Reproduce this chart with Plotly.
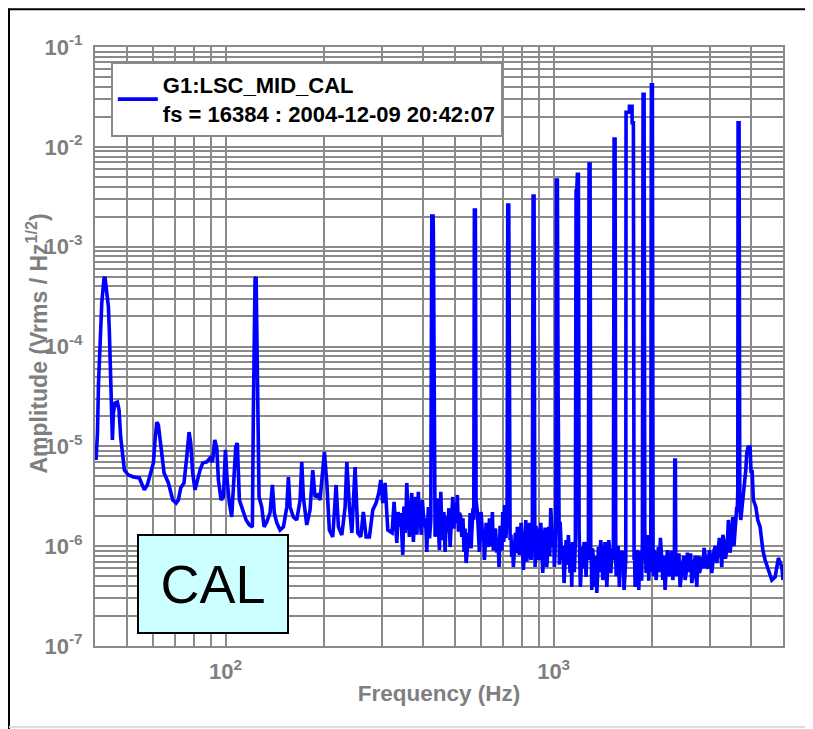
import plotly.graph_objects as go

# ---- main trace ----
freq_hz = [
    40.3, 40.7, 41.0, 41.45, 41.95, 42.6, 42.9, 43.45, 43.95, 44.25, 44.7, 45.0, 45.2, 45.5,
    46.05, 46.8, 47.35, 47.9, 48.45, 49.15, 50.55, 52.4, 54.6, 55.55, 56.55, 57.75, 59.3,
    60.25, 60.97, 61.7, 62.4, 63.15, 63.9, 64.95, 66.95, 69.05, 70.7, 71.8, 73.0, 74.7,
    76.15, 77.4, 78.3, 79.4, 80.7, 81.7, 83.6, 85.2, 87.6, 89.7, 91.2, 92.7, 94.0, 95.1,
    96.9, 98.5, 99.9, 101.1, 102.7, 104.4, 106.1, 107.4, 108.6, 110.2, 112.8, 115.5, 118.2,
    120.7, 121.5, 123.0, 123.9, 125.0, 126.5, 128.9, 131.0, 133.5, 136.6, 138.9, 140.8,
    143.3, 146.6, 150.1, 153.7, 155.4, 157.3, 160.9, 164.8, 168.7, 170.7, 172.6, 176.8,
    180.9, 184.4, 187.4, 191.0, 194.1, 197.2, 200.1, 203.5, 207.2, 212.2, 217.2, 220.8,
    226.1, 231.4, 234.2, 238.5, 242.6, 248.2, 252.9, 258.3, 263.0, 268.1, 274.4, 281.0,
    287.5, 293.1, 297.2, 301.4, 306.4, 312.2,
    321.7, 326.3, 332.6, 338.7, 342.0, 346.8, 352.4, 356.7, 363.3, 369.4, 373.6, 379.9,
    386.9, 391.5, 398.0, 403.6, 410.5, 415.1, 422.2, 425.2, 429.1, 429.9, 432.1, 435.1,
    442.2, 448.5, 452.9, 459.2, 466.7, 475.6, 483.4, 492.6, 500.6, 508.8, 516.0, 524.8,
    533.3, 540.8, 549.5, 556.2, 564.0, 570.8, 573.2, 577.2, 580.0, 585.4, 593.7, 600.9,
    608.0, 614.9, 622.3, 632.4, 643.1, 650.4, 659.6, 670.8, 681.7, 691.3, 699.6, 709.6,
    721.1, 724.6, 729.7, 732.8, 736.5, 745.2, 753.7, 764.3, 775.1, 786.1, 795.5, 808.5,
    822.2, 833.8, 843.3, 853.4, 861.2, 865.5, 871.5, 875.8, 877.8, 888.2, 900.7, 913.5,
    926.4, 941.5, 952.8, 966.3, 979.9, 993.8, 1005.1, 1015.0, 1019.3, 1026.4, 1031.6,
    1036.6, 1046.2, 1058.5, 1075.8, 1091.0, 1108.9, 1122.0, 1135.5, 1148.4, 1164.6,
    1170.3, 1176.0, 1181.1, 1189.3, 1195.3, 1206.1, 1218.0, 1237.8, 1255.4, 1275.8,
    1282.0, 1291.2, 1297.4, 1306.7, 1321.3, 1337.2, 1353.3, 1368.6, 1391.8, 1411.5,
    1434.4, 1451.7, 1472.2, 1493.1, 1520.5, 1527.9, 1538.7, 1546.2, 1557.2, 1585.8,
    1612.7, 1638.9, 1658.6, 1662.0, 1701.0, 1702.0, 1733.7, 1734.5, 1749.8, 1758.3,
    1770.8, 1791.8, 1817.2, 1843.0, 1863.9, 1872.9, 1886.3, 1895.4, 1912.9, 1940.0,
    1957.5, 1977.0, 1985.2, 1999.4, 2009.1, 2023.0, 2051.7, 2085.4, 2114.8, 2150.7,
    2185.6, 2221.2, 2263.7, 2307.3, 2333.0, 2339.6, 2349.4, 2355.9, 2389.2, 2428.0,
    2474.3, 2515.1, 2556.0, 2592.2, 2636.1, 2679.0, 2730.1, 2780.2, 2827.4, 2873.9,
    2928.7, 2982.5, 3033.0, 3082.3, 3141.6, 3199.3, 3253.5, 3306.4, 3370.2, 3407.7,
    3448.7, 3514.5, 3572.5, 3614.7, 3640.6, 3648.1, 3673.4, 3692.0, 3717.7, 3770.3,
    3813.1, 3851.0, 3877.7, 3913.6, 3969.0, 3996.6, 4025.2, 4061.5, 4131.3, 4189.0,
    4258.0, 4339.2, 4409.7, 4513.4, 4621.9, 4730.5, 4841.0, 4958.3, 5000.0,
]
amp_vrms = [
    7.3e-6, 1.36e-5, 4.31e-5, 1.37e-4, 2.73e-4, 4.8e-4, 4.97e-4, 3.44e-4, 2.49e-4, 1.37e-4, 5.42e-5, 1.97e-5, 1.16e-5, 2.16e-5,
    2.72e-5, 2.78e-5, 2.31e-5, 1.24e-5, 8.58e-6, 5.79e-6, 5.16e-6, 4.93e-6, 4.82e-6, 4.1e-6, 3.66e-6, 4.1e-6, 5.41e-6,
    6.81e-6, 1.16e-5, 1.75e-5, 1.64e-5, 1.16e-5, 7.3e-6, 5.41e-6, 4.3e-6, 2.9e-6, 2.7e-6, 2.9e-6, 3.83e-6, 4.3e-6,
    7.82e-6, 1.39e-5, 1.08e-5, 5.41e-6, 3.66e-6, 4.3e-6, 5.79e-6, 6.81e-6, 6.97e-6, 7.64e-6, 6.97e-6, 1.16e-5, 9.64e-6, 4.6e-6,
    2.9e-6, 3.11e-6, 9.2e-6, 4.6e-6, 2.7e-6, 1.96e-6, 4.6e-6, 9.86e-6, 1.08e-5, 2.9e-6, 2.3e-6, 1.83e-6, 1.63e-6,
    1.56e-6, 1.97e-5, 4.8e-4, 4.97e-4, 2.91e-5, 3.11e-6, 2.47e-6, 1.56e-6, 1.75e-6, 2.15e-6, 4.1e-6, 2.15e-6,
    1.71e-6, 1.45e-6, 1.56e-6, 2.47e-6, 4.93e-6, 2.47e-6, 1.96e-6, 1.83e-6, 2.9e-6, 6.97e-6, 3.11e-6, 1.63e-6,
    2.3e-6, 5.79e-6, 3.11e-6, 3.26e-6, 2.9e-6, 5.41e-6, 8.78e-6, 4.3e-6, 1.45e-6, 1.24e-6, 4.1e-6, 1.56e-6,
    1.29e-6, 2.47e-6, 6.97e-6, 2.47e-6, 1.36e-6, 6.21e-6, 1.36e-6, 1.24e-6, 2.2e-6, 1.24e-6, 1.24e-6, 2.3e-6,
    2.7e-6, 3.41e-6, 4.6e-6, 2.7e-6, 4.3e-6, 1.45e-6,
    1.36e-6, 2.77e-6, 1.08e-6, 1.56e-6, 2.15e-6, 8.17e-7, 1.36e-6, 4.3e-6, 1.24e-6, 3.41e-6, 1.1e-6, 3.11e-6,
    3.5e-6, 1.96e-6, 2.9e-6, 1.56e-6, 8.75e-7, 2.47e-6, 1.83e-6, 2.03e-3, 2.03e-3, 1.37e-3, 2.9e-6, 1.24e-6,
    3.0e-6, 9.15e-7, 3.5e-6, 1.15e-6, 8.75e-7, 1.38e-6, 9.8e-7, 3.11e-6, 2.7e-6, 3.26e-6, 2.15e-6, 1.24e-6,
    8.75e-7, 6.78e-7, 1.36e-6, 2.15e-6, 1.36e-6, 1.83e-6, 2.33e-3, 2.33e-3, 2.9e-6, 2.2e-6, 8.75e-7, 2.2e-6,
    1.15e-6, 7.27e-7, 1.71e-6, 9.8e-7, 1.56e-6, 2.2e-6, 1.36e-6, 8.6e-7, 6.18e-7, 1.15e-6, 2.2e-6, 2.58e-6,
    1.96e-6, 2.61e-3, 2.61e-3, 3.84e-5, 1.15e-6, 7.78e-7, 6.18e-7, 1.36e-6, 1.56e-6, 8.17e-7, 1.71e-6, 5.77e-7,
    1.83e-6, 9.8e-7, 1.71e-6, 7.27e-7, 1.83e-6, 3.22e-3, 3.22e-3, 1.83e-6, 6.18e-7, 1.24e-6, 7.27e-7, 1.71e-6,
    5.38e-7, 1.53e-6, 6.18e-7, 1.56e-6, 2.41e-6, 9.8e-7, 6.18e-7, 1.83e-6, 4.65e-3, 4.65e-3, 3.42e-5,
    1.15e-6, 1.75e-6, 7.27e-7, 4.27e-7, 1.15e-6, 1.29e-6, 5.38e-7, 3.9e-7, 9.15e-7, 1.15e-6,
    3.61e-3, 3.61e-3, 5.31e-3, 5.31e-3, 1.45e-6, 3.9e-7, 9.8e-7, 1.1e-6, 4.91e-7, 7.27e-7,
    6.73e-3, 6.73e-3, 7.27e-7, 3.64e-7, 7.27e-7, 3.9e-7, 3.4e-7, 9.8e-7, 1.15e-6, 4.58e-7,
    1.1e-6, 3.9e-7, 1.15e-6, 5.38e-7, 7.27e-7, 1.198e-2, 1.198e-2, 7.27e-7, 9.15e-7, 3.9e-7,
    7.27e-7, 3.64e-7, 7.27e-7, 2.22e-2, 2.22e-2, 2.55e-2, 2.55e-2, 1.744e-2, 1.744e-2, 7.27e-7,
    3.9e-7, 9.15e-7, 3.64e-7, 7.27e-7, 1.1e-6, 3.36e-2, 3.36e-2, 1.45e-6, 5.38e-7, 1.29e-6,
    7.27e-7, 9.0e-7, 4.19e-2, 4.19e-2, 7.27e-7, 9.15e-7, 4.58e-7, 9.8e-7, 1.21e-6, 4.58e-7,
    3.64e-7, 9.15e-7, 6.78e-7, 4.58e-7, 7.27e-7, 7.3e-6, 7.3e-6, 8.0e-7, 7.27e-7, 3.9e-7,
    6.78e-7, 4.58e-7, 8.6e-7, 7.27e-7, 4.27e-7, 6.78e-7, 3.9e-7, 5.38e-7, 7.78e-7, 9.6e-7,
    6.18e-7, 9.15e-7, 5.38e-7, 9.15e-7, 6.78e-7, 1.21e-6, 6.18e-7, 1.1e-6, 9.15e-7, 1.83e-6,
    8.6e-7, 1.96e-6, 1.45e-6, 2.47e-6, 3.66e-6, 1.744e-2, 1.744e-2, 2.58e-6, 1.83e-6, 2.9e-6,
    3.91e-6, 5.79e-6, 8.58e-6, 9.86e-6, 9.86e-6, 5.41e-6, 5.79e-6, 2.9e-6, 2.47e-6, 1.83e-6,
    1.56e-6, 9.15e-7, 7.27e-7, 5.77e-7, 4.58e-7, 4.91e-7, 7.61e-7, 6.18e-7, 4.58e-7,
]

# ---- extra wiggles of the dense noise floor, read between the points above ----
noise_freq_hz = [
    329.5, 335.5, 344.5, 349.5, 354.5, 360.0, 366.0, 371.5, 376.5, 383.0, 389.0, 395.0,
    401.0, 407.0, 412.5, 418.5,
    438.5, 445.5, 450.8, 456.0, 462.8, 471.0, 479.5, 488.0, 496.5, 504.5, 512.5, 520.5,
    529.0, 537.0, 545.0, 553.0, 560.0, 567.5,
    589.5, 597.5, 604.5, 611.5, 618.5, 627.0, 637.5, 646.5, 655.0, 665.0, 676.0, 686.5,
    695.5, 704.5, 715.0,
    741.0, 749.5, 759.0, 769.5, 780.5, 791.0, 802.0, 815.0, 828.0, 838.5, 848.5, 857.5,
    883.0, 894.5, 907.0, 920.0, 934.0, 947.0, 959.5, 973.0, 987.0, 999.5, 1010.0,
    1041.0, 1052.0, 1067.0, 1083.5, 1100.0, 1115.5, 1128.5, 1142.0, 1156.5,
    1200.5, 1212.0, 1228.0, 1246.5, 1265.5,
    1302.0, 1314.0, 1329.0, 1345.0, 1361.0, 1380.0, 1401.5, 1423.0, 1443.0, 1462.0,
    1482.5, 1507.0,
    1551.5, 1571.5, 1599.0, 1625.5, 1648.5,
    1764.5, 1781.0, 1804.5, 1830.0, 1853.5,
    1904.0, 1926.5, 1948.5, 1967.0,
    2016.0, 2037.0, 2068.5, 2100.0, 2132.5, 2168.0, 2203.5, 2242.5, 2285.5, 2320.0,
    2372.5, 2408.5, 2451.0, 2494.5, 2535.5, 2574.0, 2614.0, 2657.5, 2704.5, 2755.0,
    2803.5, 2851.0, 2901.0, 2955.5, 3007.5, 3057.5, 3112.0, 3170.5, 3226.5, 3280.0,
    3338.0, 3389.0, 3428.0, 3481.5, 3543.5, 3593.5, 3628.0,
]
noise_amp_vrms = [
    1.9e-6, 2.2e-6, 1.3e-6, 2.5e-6, 1.9e-6, 2.0e-6, 2.2e-6, 1.8e-6, 2.0e-6, 1.3e-6, 1.8e-6, 1.3e-6,
    2.0e-6, 1.9e-6, 1.5e-6, 1.2e-6,
    1.6e-6, 1.5e-6, 2.0e-6, 1.6e-6, 2.2e-6, 2.0e-6, 2.4e-6, 1.8e-6, 1.5e-6, 1.7e-6, 1.4e-6, 2.0e-6,
    1.9e-6, 1.5e-6, 9.0e-7, 1.0e-6, 9.5e-7, 2.4e-6,
    1.4e-6, 1.3e-6, 1.6e-6, 1.4e-6, 1.0e-6, 1.3e-6, 1.9e-6, 1.0e-6, 9.0e-7, 1.5e-6, 1.2e-6, 1.6e-6,
    9.0e-7, 1.1e-6, 1.2e-6,
    1.3e-6, 1.1e-6, 9.0e-7, 8.5e-7, 1.1e-6, 1.0e-6, 1.1e-6, 9.0e-7, 7.0e-7, 1.2e-6, 8.0e-7, 1.1e-6,
    1.6e-6, 1.5e-6, 9.0e-7, 1.0e-6, 1.1e-6, 1.3e-6, 9.0e-7, 8.0e-7, 1.5e-6, 1.4e-6, 9.0e-7,
    6.5e-7, 1.2e-6, 1.0e-6, 7.0e-7, 6.5e-7, 8.5e-7, 1.0e-6, 1.1e-6, 5.5e-7,
    8.0e-7, 5.5e-7, 6.0e-7, 8.5e-7, 1.1e-6,
    8.5e-7, 9.5e-7, 5.5e-7, 8.0e-7, 5.0e-7, 5.5e-7, 8.5e-7, 6.0e-7, 8.5e-7, 6.5e-7,
    8.5e-7, 9.5e-7,
    5.0e-7, 1.0e-6, 9.0e-7, 9.0e-7, 5.0e-7,
    8.0e-7, 5.5e-7, 8.0e-7, 9.0e-7, 4.5e-7,
    9.0e-7, 8.0e-7, 4.5e-7, 5.5e-7,
    5.0e-7, 8.0e-7, 7.0e-7, 5.5e-7, 8.0e-7, 8.0e-7, 6.0e-7, 5.0e-7, 9.0e-7, 5.5e-7,
    5.0e-7, 8.5e-7, 5.5e-7, 8.0e-7, 5.5e-7, 5.5e-7, 8.5e-7, 5.0e-7, 8.0e-7, 8.0e-7,
    6.0e-7, 6.0e-7, 8.0e-7, 6.0e-7, 8.0e-7, 7.0e-7, 1.0e-6, 9.0e-7, 9.5e-7, 1.3e-6,
    7.5e-7, 1.2e-6, 1.4e-6, 1.2e-6, 1.0e-6, 1.7e-6, 2.2e-6,
]

x_tick_vals = [100, 1000]
x_tick_text = ["10<sup>2</sup>", "10<sup>3</sup>"]
y_tick_vals = [1e-1, 1e-2, 1e-3, 1e-4, 1e-5, 1e-6, 1e-7]
y_tick_text = ["10<sup>-1</sup>", "10<sup>-2</sup>", "10<sup>-3</sup>", "10<sup>-4</sup>",
               "10<sup>-5</sup>", "10<sup>-6</sup>", "10<sup>-7</sup>"]
x_minor_vals = [m * 10 ** e for e in (1, 2, 3) for m in range(2, 10)]
y_minor_vals = [m * 10.0 ** e for e in range(-7, -1) for m in range(2, 10)]

series_name = "G1:LSC_MID_CAL<br>fs = 16384 : 2004-12-09 20:42:07"
x_title = "Frequency (Hz)"
y_title = "Amplitude (Vrms / Hz<sup>1/2</sup>)"
box_label = "CAL"

merged = sorted(zip(freq_hz + noise_freq_hz, amp_vrms + noise_amp_vrms))
plot_f = [p[0] for p in merged]
plot_a = [p[1] for p in merged]

GRID = "#8a8a8a"
LABEL = "#7f7f7f"
FONT = "Liberation Sans, Arial, sans-serif"

fig = go.Figure()
fig.add_trace(go.Scatter(
    x=plot_f, y=plot_a, mode="lines", name=series_name,
    line=dict(color="#0000ff", width=3.6), showlegend=True,
))

fig.update_layout(
    width=805, height=721,
    paper_bgcolor="white", plot_bgcolor="white",
    margin=dict(l=87, r=30, t=39, b=83, autoexpand=False),
    showlegend=True,
    legend=dict(
        x=0.023, y=0.975, xanchor="left", yanchor="top",
        bgcolor="white", bordercolor="#8a8a8a", borderwidth=2,
        font=dict(family=FONT, size=22, color="black", weight="bold"),
        itemwidth=40,
    ),
    xaxis=dict(
        type="log", range=[1.60206, 3.69897],
        tickvals=x_tick_vals, ticktext=x_tick_text,
        showgrid=True, gridcolor=GRID, gridwidth=1.5,
        minor=dict(tickvals=x_minor_vals, showgrid=True, gridcolor=GRID, gridwidth=1.5, ticks=""),
        ticks="", showline=True, linecolor=GRID, linewidth=2, mirror=True,
        tickfont=dict(family=FONT, size=22, color=LABEL, weight="bold"),
        ticklabelstandoff=5,
        title=dict(text=x_title, standoff=2,
                   font=dict(family=FONT, size=22.5, color=LABEL, weight="bold")),
        zeroline=False,
    ),
    yaxis=dict(
        type="log", range=[-7, -1],
        tickvals=y_tick_vals, ticktext=y_tick_text,
        showgrid=True, gridcolor=GRID, gridwidth=1.5,
        minor=dict(tickvals=y_minor_vals, showgrid=True, gridcolor=GRID, gridwidth=1.5, ticks=""),
        ticks="", showline=True, linecolor=GRID, linewidth=2, mirror=True,
        tickfont=dict(family=FONT, size=22, color=LABEL, weight="bold"),
        ticklabelstandoff=6,
        zeroline=False,
    ),
    annotations=[
        dict(text=y_title, xref="paper", yref="paper", x=-0.0843, y=0.505,
             xanchor="center", yanchor="middle", textangle=-90, showarrow=False,
             font=dict(family=FONT, size=23, color=LABEL, weight="bold")),
        dict(text=box_label, xref="paper", yref="paper", x=0.1715, y=0.1035,
             xanchor="center", yanchor="middle", showarrow=False,
             width=146, height=94, bgcolor="#ccffff", bordercolor="black", borderwidth=2,
             font=dict(family=FONT, size=54, color="black")),
    ],
    shapes=[
        dict(type="line", xref="paper", yref="paper", x0=-0.1265, x1=1.05, y0=1.063, y1=1.063,
             line=dict(color="black", width=2)),
        dict(type="line", xref="paper", yref="paper", x0=-0.1250, x1=-0.1250, y0=1.064, y1=-0.14,
             line=dict(color="black", width=2)),
        dict(type="line", xref="paper", yref="paper", x0=-0.125, x1=1.05, y0=-0.1352, y1=-0.1352,
             line=dict(color="#dddddd", width=2)),
    ],
)

fig.write_html("out.html")
